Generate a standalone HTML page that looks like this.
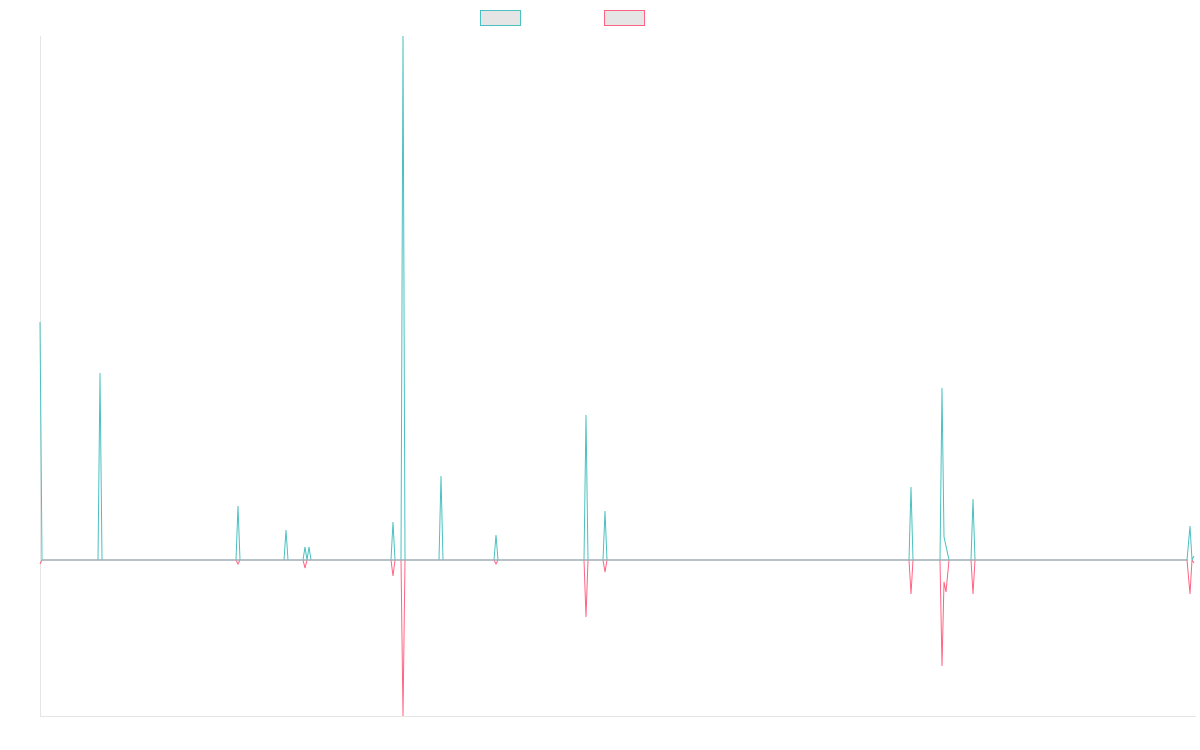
<!DOCTYPE html>
<html><head><meta charset="utf-8"><style>
html,body{margin:0;padding:0;background:#fff;width:1200px;height:750px;overflow:hidden}
</style></head><body>
<svg width="1200" height="750" xmlns="http://www.w3.org/2000/svg">
<rect x="480.5" y="10.5" width="40" height="15" fill="#e5e5e5" stroke="#4bc0c0" stroke-width="1"/>
<rect x="604.5" y="10.5" width="40" height="15" fill="#e5e5e5" stroke="#ff6384" stroke-width="1"/>
<line x1="40.5" y1="36" x2="40.5" y2="716" stroke="#e5e5e5"/>
<line x1="40" y1="716.5" x2="1196" y2="716.5" stroke="#e5e5e5"/>
<polyline fill="none" stroke="#ff6384" stroke-width="1" points="40,564 42,560 236,560 238,564 240,560 303,560 305,568 307,560 391,560 393,576 395,560 401,560 403,716 405,560 494,560 496,564 498,560 584,560 586,617 588,560 603,560 605,572 607,560 909,560 911,594 913,560 940,560 942,666 944,582 946,592 949,560 971,560 973,594 975,560 1187,560 1190,594 1192,560 1194,563"/>
<polyline fill="none" stroke="#4bc0c0" stroke-width="1" points="40,322 42,560 98,560 100,373 102,560 236,560 238,506 240,560 284,560 286,530 288,560 303,560 305,547 307,560 309,547 311,560 391,560 393,522 395,560 401,560 403,36 405,560 439,560 441,476 443,560 494,560 496,535 498,560 584,560 586,415 588,560 603,560 605,511 607,560 909,560 911,487 913,560 940,560 942,388 944,537 949,560 971,560 973,499 975,560 1187,560 1190,526 1192,560 1194,556"/>
<line x1="42" y1="560" x2="1188" y2="560" stroke="#9eadb5" stroke-width="1.5"/>
</svg>
</body></html>
